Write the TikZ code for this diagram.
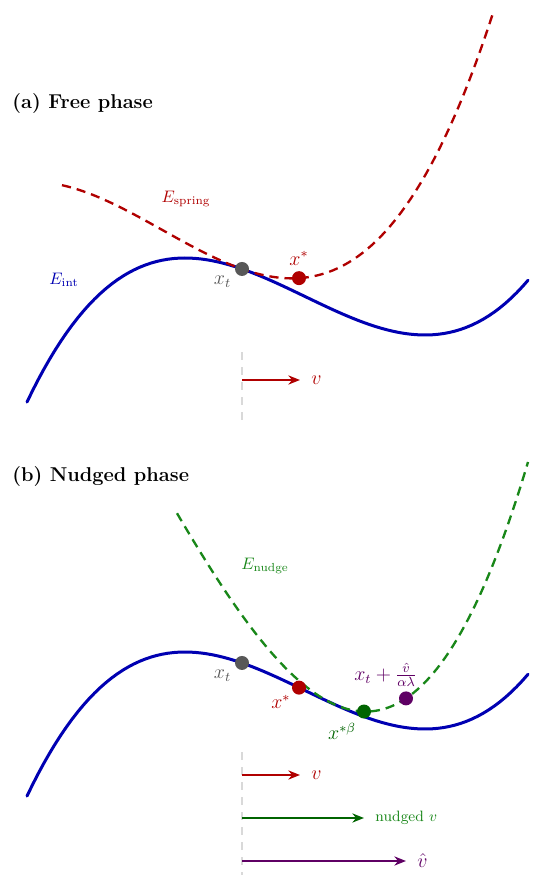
\documentclass[tikz,border=0pt]{standalone}
\usepackage{amsmath}
\usetikzlibrary{arrows.meta,positioning}
\definecolor{eblue}{RGB}{0,0,178}
\definecolor{ered}{RGB}{176,0,0}
\definecolor{egreen}{RGB}{25,135,25}
\definecolor{edgreen}{RGB}{0,100,0}
\definecolor{epurple}{RGB}{95,0,100}
\definecolor{egray}{RGB}{88,88,88}
\tikzset{
  declare function={
    eint(\x)=258-33.42*(((\x-185)/100)*((\x-185)/100)*((\x-185)/100)/3-1.2*((\x-185)/100)*((\x-185)/100));
    espr(\x)=eint(\x)-47.6*((\x-242)/100)*((\x-242)/100);
    enud(\x)=eint(\x)+394-56.4*((\x-334)/100)*((\x-334)/100);
  },
  en/int/.style={draw=eblue, line width=1.8pt, line cap=round},
  en/spring/.style={draw=ered, line width=1.4pt, dash pattern=on 5.5pt off 3.6pt},
  en/nudge/.style={draw=egreen, line width=1.4pt, dash pattern=on 5.5pt off 3.6pt},
  en/dot/.style={circle, inner sep=0pt, minimum size=8.4pt},
  en/axis/.style={draw=black!15, line width=1.1pt, dash pattern=on 4.5pt off 4.5pt},
  en/vel/.style={line width=1.5pt, -{Stealth[length=7pt, width=5.5pt]}},
  en/lbl/.style={inner sep=1pt, font=\normalsize},
  en/var/.style={inner sep=1pt, font=\large},
  en/head/.style={anchor=west, inner sep=0pt, font=\large\bfseries}
}
\begin{document}
\begin{tikzpicture}[x=0.6pt, y=-0.6pt, node distance=2mm and 2mm]
  \useasboundingbox (0,0) rectangle (538,880);

  % (a) free phase
  \node[en/head] (heada) at (12,104) {(a) Free phase};
  \draw[en/int] plot[domain=27:528, samples=90] (\x,{eint(\x)});
  \draw[en/spring] plot[domain=62:493, samples=90] (\x,{espr(\x)});
  \node[en/dot, fill=egray] (xta) at (242,{eint(242)}) {};
  \node[en/dot, fill=ered] (xsa) at (299,{espr(299)}) {};
  \node[en/var, text=egray, below left=0mm and 0.8mm of xta] (xtalbl) {$x_t$};
  \node[en/var, text=ered, above=0.8mm of xsa] (xsalbl) {$x^*$};
  \node[en/lbl, text=eblue] (eintlbl) at (64,280) {$E_{\text{int}}$};
  \node[en/lbl, text=ered] (esprlbl) at (186,199) {$E_{\text{spring}}$};

  \coordinate (axa0) at (242,352);
  \coordinate (axa1) at (242,425);
  \draw[en/axis] (axa0) -- (axa1);
  \coordinate (va0) at (242,380);
  \coordinate (va1) at (300,380);
  \draw[en/vel, ered] (va0) -- (va1);
  \node[en/var, text=ered, right=2mm of va1] (valbl) {$v$};

  % (b) nudged phase
  \node[en/head] (headb) at (12,477) {(b) Nudged phase};
  \draw[en/int] plot[domain=27:528, samples=90] (\x,{eint(\x)+394});
  \draw[en/nudge] plot[domain=177:528, samples=90] (\x,{enud(\x)});
  \node[en/dot, fill=egray] (xtb) at (242,{eint(242)+394}) {};
  \node[en/dot, fill=ered] (xsb) at (299,{eint(299)+394}) {};
  \node[en/dot, fill=edgreen] (xbeta) at (364,{enud(364)}) {};
  \node[en/dot, fill=epurple] (xhat) at (406,{enud(406)}) {};
  \node[en/var, text=egray, below left=0mm and 0.8mm of xtb] (xtblbl) {$x_t$};
  \node[en/var, text=ered, below left=0mm and 0.3mm of xsb] (xsblbl) {$x^*$};
  \node[en/var, text=edgreen, below left=1mm and 0.2mm of xbeta] (xbetalbl) {$x^{*\beta}$};
  \node[en/var, text=epurple, above left=0.9mm and -3.8mm of xhat] (xhatlbl) {$x_t+\frac{\hat{v}}{\alpha\lambda}$};
  \node[en/lbl, text=egreen] (enudlbl) at (265,566) {$E_{\text{nudge}}$};

  \coordinate (axb0) at (242,752);
  \coordinate (axb1) at (242,875);
  \draw[en/axis] (axb0) -- (axb1);
  \coordinate (vb0) at (242,775);
  \coordinate (vb1) at (300,775);
  \coordinate (nb0) at (242,818);
  \coordinate (nb1) at (364,818);
  \coordinate (hb0) at (242,861);
  \coordinate (hb1) at (406,861);
  \draw[en/vel, ered] (vb0) -- (vb1);
  \draw[en/vel, edgreen] (nb0) -- (nb1);
  \draw[en/vel, epurple] (hb0) -- (hb1);
  \node[en/var, text=ered, right=2mm of vb1] (vblbl) {$v$};
  \node[en/lbl, text=egreen, font=\small, right=2mm of nb1] (nblbl) {nudged $v$};
  \node[en/var, text=epurple, right=2mm of hb1] (hblbl) {$\hat{v}$};
\end{tikzpicture}
\end{document}
